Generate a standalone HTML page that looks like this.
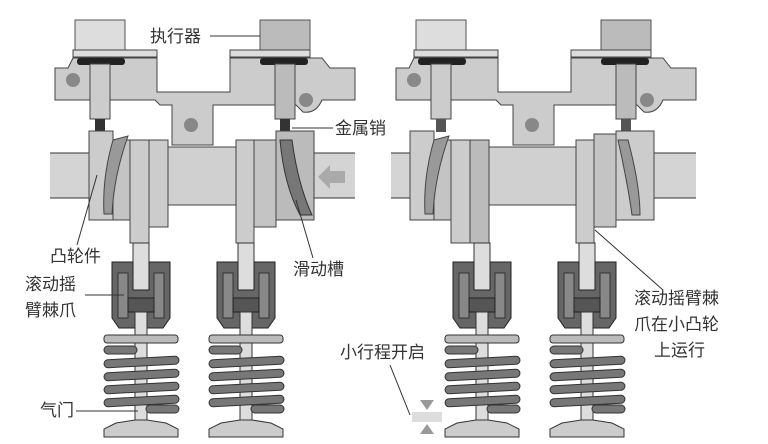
<!DOCTYPE html>
<html><head><meta charset="utf-8"><style>
html,body{margin:0;padding:0;background:#fff;}
svg{display:block;}
text{font-family:"Liberation Sans","Noto Sans CJK SC",sans-serif;font-size:17px;fill:#333;}
</style></head><body>
<svg width="768" height="444" viewBox="0 0 768 444" xmlns="http://www.w3.org/2000/svg">
<defs>
<g id="valve">
  <rect x="-8" y="243" width="16" height="55" fill="#ddd" stroke="#333" stroke-width="1"/>
  <path d="M-29,262 H-8 V290 H8 V262 H29 V318 L22,328 H-22 L-29,318 Z" fill="#666" stroke="#222"/>
  <rect x="-23" y="273" width="10" height="45" fill="#888" stroke="#333"/>
  <rect x="13" y="273" width="10" height="45" fill="#888" stroke="#333"/>
  <rect x="-13" y="298" width="26" height="14" fill="#555" stroke="#222"/>
  <rect x="-6" y="312" width="12" height="113" fill="#ddd" stroke="#333"/>
  <rect x="-37" y="335" width="74" height="8" rx="3" fill="#bbb" stroke="#333"/>
  <rect x="-37" y="346" width="33" height="8" rx="4" fill="#777" stroke="#333"/>
  <rect x="-37" y="358" width="75" height="8" rx="4" fill="#777" stroke="#333" transform="rotate(-3 0 362)"/>
  <rect x="-37" y="371" width="75" height="8" rx="4" fill="#777" stroke="#333" transform="rotate(-3 0 375)"/>
  <rect x="-37" y="384" width="75" height="8" rx="4" fill="#777" stroke="#333" transform="rotate(-3 0 388)"/>
  <rect x="-37" y="397" width="75" height="8" rx="4" fill="#777" stroke="#333" transform="rotate(-3 0 401)"/>
  <rect x="5" y="405" width="33" height="8" rx="4" fill="#777" stroke="#333"/>
  <polygon points="-6,420 6,420 25,423 37,429 37,437 -37,437 -37,429 -25,423" fill="#ccc" stroke="#333"/>
</g>
<g id="head">
  <rect x="75" y="20" width="50" height="32" fill="#ddd" stroke="#555"/>
  <rect x="260" y="20" width="50" height="32" fill="#bbb" stroke="#555"/>
  <path d="M55,68 L68,68 L73,58 H157 V92 H230 V58 H322 L330,68 H355 V100 H322 Q316,114 303,112 L296,105 H213 V145 H172 V105 H160 L155,100 H55 Z" fill="#ccc" stroke="#444"/>
  <rect x="73" y="50" width="84" height="7" fill="#ddd" stroke="#444"/>
  <rect x="230" y="50" width="80" height="7" fill="#ddd" stroke="#444"/>
  <rect x="77" y="58" width="48" height="7" rx="3" fill="#222"/>
  <rect x="260" y="58" width="48" height="7" rx="3" fill="#222"/>
  <circle cx="73" cy="80" r="7" fill="#888"/>
  <circle cx="191" cy="125" r="7" fill="#888"/>
  <circle cx="306" cy="100" r="7" fill="#888"/>
  <rect x="90" y="64" width="20" height="55" fill="#ccc" stroke="#444"/>
  <rect x="275" y="64" width="20" height="55" fill="#bbb" stroke="#444"/>
  <rect x="50" y="153" width="305" height="45" fill="#d4d4d4"/>
  <line x1="50" y1="153" x2="355" y2="153" stroke="#333"/>
  <line x1="50" y1="198" x2="355" y2="198" stroke="#333"/>
</g>
</defs>

<!-- LEFT PANEL -->
<use href="#head"/>
<rect x="95" y="119" width="10" height="13" fill="#333"/>
<rect x="280" y="119" width="10" height="22" fill="#333"/>
<rect x="168" y="147" width="68" height="58" fill="#d0d0d0" stroke="#444"/>
<rect x="89" y="131" width="24" height="89" fill="#ccc" stroke="#444"/>
<rect x="113" y="140" width="17" height="80" fill="#c4c4c4" stroke="#444"/>
<path d="M113,140 L128,136 Q114,175 112,214 L104,214 Q102,178 113,140 Z" fill="#999" stroke="#444"/>
<rect x="130" y="140" width="19" height="103" fill="#ccc" stroke="#444"/>
<rect x="149" y="140" width="19" height="87" fill="#ccc" stroke="#444"/>
<rect x="236" y="140" width="18" height="103" fill="#ccc" stroke="#444"/>
<rect x="254" y="140" width="22" height="87" fill="#c4c4c4" stroke="#444"/>
<rect x="276" y="131" width="38" height="89" fill="#bbb" stroke="#444"/>
<path d="M280,140 L292,140 Q298,185 312,215 L300,215 Q284,185 280,140 Z" fill="#777" stroke="#333"/>
<polygon points="318,177 330,165 330,171 345,171 345,183 330,183 330,189" fill="#aaa"/>
<use href="#valve" transform="translate(141 0)"/>
<use href="#valve" transform="translate(246 0)"/>

<!-- RIGHT PANEL -->
<use href="#head" transform="translate(341 0)"/>
<rect x="436" y="119" width="10" height="13" fill="#555"/>
<rect x="621" y="119" width="10" height="13" fill="#555"/>
<rect x="489" y="147" width="90" height="58" fill="#d0d0d0" stroke="#444"/>
<rect x="410" y="131" width="24" height="89" fill="#ccc" stroke="#444"/>
<rect x="434" y="140" width="17" height="80" fill="#c4c4c4" stroke="#444"/>
<path d="M434,140 L449,136 Q435,175 433,214 L425,214 Q423,178 434,140 Z" fill="#999" stroke="#444"/>
<rect x="451" y="140" width="19" height="103" fill="#ccc" stroke="#444"/>
<rect x="470" y="140" width="19" height="103" fill="#bbb" stroke="#444"/>
<rect x="576" y="140" width="18" height="103" fill="#ccc" stroke="#444"/>
<rect x="594" y="134" width="22" height="93" fill="#c4c4c4" stroke="#444"/>
<rect x="616" y="131" width="38" height="89" fill="#ccc" stroke="#444"/>
<path d="M618,140 L628,140 Q640,185 640,215 L632,215 Q628,185 618,140 Z" fill="#999" stroke="#444"/>
<use href="#valve" transform="translate(482 0)"/>
<use href="#valve" transform="translate(587 0)"/>
<rect x="412" y="412" width="30" height="10" fill="#ddd"/>
<polygon points="420,400 434,400 427,410" fill="#999"/>
<polygon points="420,434 434,434 427,424" fill="#999"/>

<!-- LABELS -->
<text x="150" y="42">执行器</text>
<line x1="210" y1="36" x2="260" y2="36" stroke="#333"/>
<text x="335" y="134">金属销</text>
<line x1="292" y1="128" x2="333" y2="128" stroke="#333"/>
<text x="50" y="262">凸轮件</text>
<line x1="77" y1="245" x2="97" y2="175" stroke="#333"/>
<text x="25" y="290">滚动摇</text>
<text x="25" y="316">臂棘爪</text>
<line x1="85" y1="295" x2="124" y2="295" stroke="#333"/>
<text x="293" y="275">滑动槽</text>
<line x1="313" y1="258" x2="296" y2="200" stroke="#333"/>
<text x="40" y="416">气门</text>
<line x1="76" y1="411" x2="138" y2="411" stroke="#333"/>
<text x="340" y="358">小行程开启</text>
<line x1="390" y1="365" x2="410" y2="415" stroke="#333"/>
<text x="634" y="304">滚动摇臂棘</text>
<text x="634" y="330">爪在小凸轮</text>
<text x="654" y="356">上运行</text>
<line x1="595" y1="230" x2="663" y2="290" stroke="#333"/>
</svg>
</body></html>
